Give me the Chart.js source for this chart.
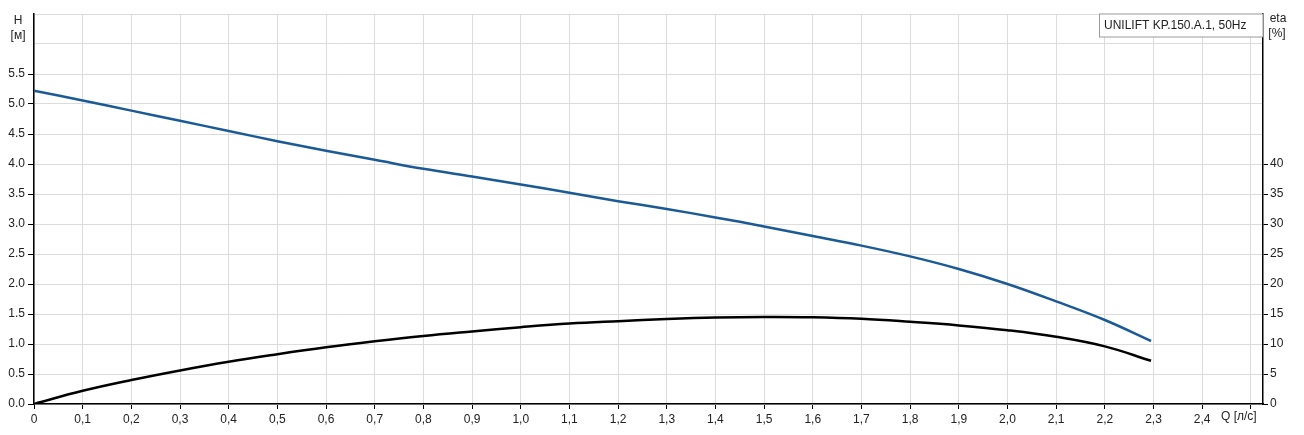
<!DOCTYPE html>
<html>
<head>
<meta charset="utf-8">
<script src="https://cdn.jsdelivr.net/npm/chart.js@4"></script>
<style>
  body { margin: 0; background: #fff; }
  canvas { display: block; }
</style>
</head>
<body>
<canvas id="pumpChart" width="1304" height="435"></canvas>
<script>
// flow rate Q [l/s]
const qValues = [0, 0.1, 0.2, 0.3, 0.4, 0.5, 0.6, 0.7, 0.8, 0.9, 1.0, 1.1, 1.2,
                 1.3, 1.4, 1.5, 1.6, 1.7, 1.8, 1.9, 2.0, 2.1, 2.2, 2.295];
// head H [m]
const headValues = [5.22, 5.06, 4.89, 4.72, 4.55, 4.38, 4.22, 4.07, 3.92, 3.79, 3.66, 3.52, 3.38,
                    3.25, 3.11, 2.96, 2.80, 2.64, 2.46, 2.25, 2.00, 1.71, 1.40, 1.05];
// efficiency eta [%]
const etaValues = [0, 2.2, 4.0, 5.6, 7.05, 8.3, 9.45, 10.45, 11.35, 12.1, 12.8, 13.4, 13.8,
                   14.15, 14.4, 14.5, 14.45, 14.2, 13.7, 13.1, 12.3, 11.2, 9.6, 7.2];

const pumpName = 'UNILIFT KP.150.A.1, 50Hz';
const hMaxLabel = 5.5;
const etaMaxLabel = 40;

const FONT = { family: '"Liberation Sans", Arial, sans-serif', size: 12 };
const TEXT = '#222';
const GRID = '#dcdcdc';

const hidden = 'rgba(0,0,0,0)';

// axis titles and the legend box
const overlay = {
    id: 'overlay',
    afterDraw(chart) {
        const ctx = chart.ctx;
        const a = chart.chartArea;
        ctx.save();
        ctx.font = '12px ' + FONT.family;
        ctx.fillStyle = TEXT;
        ctx.textBaseline = 'middle';
        ctx.textAlign = 'center';
        ctx.fillText('H', 18, 21);
        ctx.fillText('[м]', 18, 36);
        ctx.fillText('eta', 1278, 19);
        ctx.fillText('[%]', 1277, 34);
        ctx.textAlign = 'left';
        ctx.fillText('Q [л/с]', 1221, 417);

        // legend box
        const bx = 1099.5, by = a.top, bw = a.right - 1099.5, bh = 23;
        ctx.fillStyle = '#fff';
        ctx.fillRect(bx, by, bw, bh);
        ctx.strokeStyle = '#9a9a9a';
        ctx.lineWidth = 1;
        ctx.strokeRect(bx, by, bw, bh);
        ctx.fillStyle = TEXT;
        ctx.fillText(pumpName, 1104, by + 11.5);
        ctx.restore();
    }
};

const ctx = document.getElementById('pumpChart').getContext('2d');
new Chart(ctx, {
    type: 'line',
    data: {
        datasets: [
            {
                label: 'H',
                data: qValues.map((q, i) => ({ x: q, y: headValues[i] })),
                borderColor: '#1b5a96',
                borderWidth: 2.5,
                pointRadius: 0,
                tension: 0.4,
                yAxisID: 'y'
            },
            {
                label: 'eta',
                data: qValues.map((q, i) => ({ x: q, y: etaValues[i] })),
                borderColor: '#000',
                borderWidth: 2.5,
                pointRadius: 0,
                tension: 0.4,
                yAxisID: 'eta'
            }
        ]
    },
    options: {
        responsive: false,
        animation: false,
        devicePixelRatio: 1,
        layout: { padding: { top: 14, left: 0, right: 0, bottom: 0 } },
        plugins: { legend: { display: false }, tooltip: { enabled: false } },
        scales: {
            x: {
                type: 'linear',
                min: 0,
                max: 2.525,
                afterFit: s => { s.height = 31; },
                border: { color: '#000', width: 1.5 },
                grid: {
                    color: GRID,
                    tickLength: 5,
                    tickColor: '#000'
                },
                ticks: {
                    stepSize: 0.1,
                    includeBounds: false,
                    padding: 3,
                    maxRotation: 0,
                    autoSkip: false,
                    color: TEXT,
                    font: FONT,
                    callback: v => {
                        if (v > 2.45) return '';
                        return v === 0 ? '0' : v.toFixed(1).replace('.', ',');
                    }
                }
            },
            y: {
                position: 'left',
                min: 0,
                max: 6.5,
                afterFit: s => { s.width = 34; },
                border: { color: '#000', width: 1.5 },
                grid: {
                    color: GRID,
                    tickLength: 6,
                    tickColor: c => (c.tick && c.tick.value > hMaxLabel ? hidden : '#000')
                },
                ticks: {
                    stepSize: 0.5,
                    includeBounds: false,
                    padding: 3,
                    color: TEXT,
                    font: FONT,
                    callback: v => (v > hMaxLabel ? '' : v.toFixed(1))
                }
            },
            eta: {
                position: 'right',
                min: 0,
                max: 65,
                afterFit: s => { s.width = 41; },
                border: { color: '#000', width: 1.5 },
                grid: {
                    drawOnChartArea: false,
                    tickLength: 5,
                    tickColor: c => (c.tick && c.tick.value > etaMaxLabel ? hidden : '#000')
                },
                ticks: {
                    stepSize: 5,
                    includeBounds: false,
                    padding: 2,
                    color: TEXT,
                    font: FONT,
                    callback: v => (v > etaMaxLabel ? '' : String(v))
                }
            }
        }
    },
    plugins: [overlay]
});
</script>
</body>
</html>
